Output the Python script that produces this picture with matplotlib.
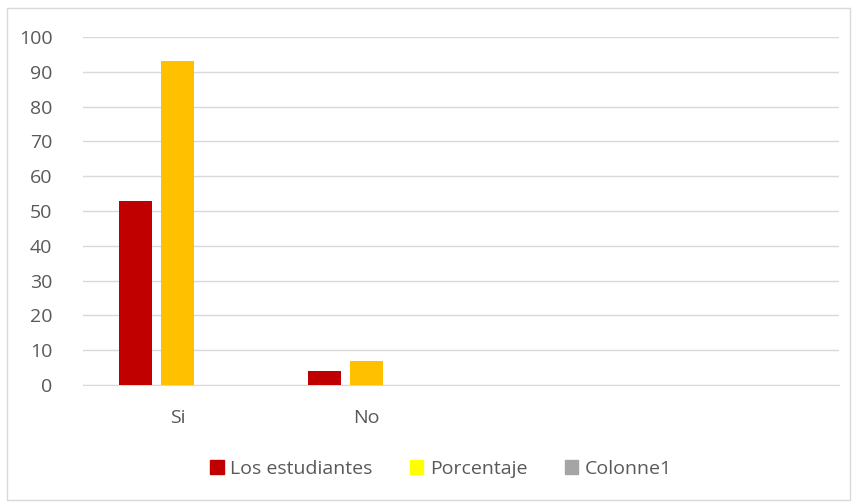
import numpy as np
import matplotlib
matplotlib.use("Agg")
import matplotlib.pyplot as plt
from matplotlib.patches import Rectangle, Patch

categories = ["Si", "No", "", ""]
estudiantes = [53, 4, 0, 0]
porcentaje = [93, 7, 0, 0]
colonne1 = [0, 0, 0, 0]

series_names = ["Los estudiantes", "Porcentaje", "Colonne1"]
bar_colors = ["#C00000", "#FFC000", "#A5A5A5"]
legend_colors = ["#C00000", "#FFFF00", "#A5A5A5"]

plt.rcParams['font.family'] = ['Open Sans', 'DejaVu Sans']
text_color = "#595959"
fs = 14

fig = plt.figure(figsize=(8.57, 5.04), dpi=100)
ax = fig.add_axes([83 / 857, 119 / 504, 756 / 857, 348 / 504])

x = np.arange(len(categories))
width = 33 / 189
step = 42 / 189
for i, vals in enumerate([estudiantes, porcentaje, colonne1]):
    ax.bar(x + (i - 1) * step, vals, width, color=bar_colors[i], zorder=3)

ax.set_xlim(-0.5, len(categories) - 0.5)
ax.set_ylim(0, 100)
ax.set_yticks(range(0, 101, 10))
ax.set_xticks(x)
ax.set_xticklabels(categories)
ax.grid(axis='y', color='#D9D9D9', linewidth=1, zorder=0)
for s in ['top', 'right', 'left']:
    ax.spines[s].set_visible(False)
ax.spines['bottom'].set_color('#D9D9D9')
ax.tick_params(length=0, colors=text_color, labelsize=fs)
ax.tick_params(axis='y', pad=22)
ax.tick_params(axis='x', pad=17)

handles = [Patch(color=c) for c in legend_colors]
fig.legend(handles, series_names, loc='center', bbox_to_anchor=(441 / 857, 1 - 469 / 504),
           ncol=3, frameon=False, fontsize=fs, labelcolor=text_color,
           handlelength=0.7, handleheight=0.7, handletextpad=0.35, columnspacing=1.9)

fig.patches.append(Rectangle((7 / 857, 4 / 504), 843 / 857, 492 / 504, transform=fig.transFigure,
                             fill=False, edgecolor='#D9D9D9', linewidth=1))

plt.savefig("out.png", dpi=100)
